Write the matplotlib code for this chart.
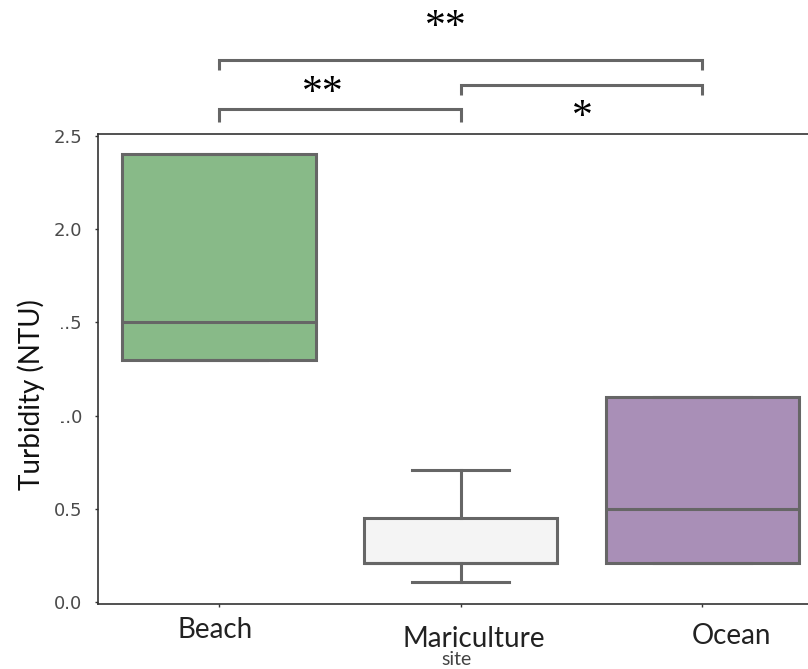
import matplotlib
matplotlib.use("Agg")
import matplotlib.pyplot as plt
import matplotlib.transforms as mtransforms
from matplotlib.patches import Rectangle

# ---- data ----
sites = ["Beach", "Mariculture", "Ocean"]
whisker_low = [1.30, 0.11, 0.21]
q1 = [1.30, 0.21, 0.21]
median = [1.50, 0.21, 0.50]
q3 = [2.40, 0.45, 1.10]
whisker_high = [2.40, 0.71, 1.10]
box_colors = ["#88BA88", "#F4F4F4", "#A98FB7"]

# significance comparisons: (start index, end index, label)
comp_start = [0, 1, 0]
comp_end = [1, 2, 2]
comp_label = ["**", "*", "**"]

ytick_vals = [0.0, 0.5, 1.0, 1.5, 2.0, 2.5]

LINE = "#666666"

fig = plt.figure(figsize=(8.08, 6.69), dpi=100)
W, H = 808, 669
ax = fig.add_axes([98 / W, 65 / H, 725 / W, 470 / H])

stats = []
for i, s in enumerate(sites):
    stats.append(dict(label=s, whislo=whisker_low[i], q1=q1[i], med=median[i],
                      q3=q3[i], whishi=whisker_high[i], fliers=[]))

bp = ax.bxp(stats, positions=range(len(sites)), widths=0.8, capwidths=0.4,
            patch_artist=True, showfliers=False,
            boxprops=dict(edgecolor=LINE, linewidth=2.2),
            whiskerprops=dict(color=LINE, linewidth=2.2),
            capprops=dict(color=LINE, linewidth=2.2),
            medianprops=dict(color=LINE, linewidth=2.2))
for patch, c in zip(bp["boxes"], box_colors):
    patch.set_facecolor(c)

ax.set_xlim(-0.5, 2.5)
ax.set_ylim(-0.009, 2.509)
ax.set_yticks(ytick_vals)
ax.set_yticklabels([f"{v:.1f}" for v in ytick_vals])
ax.set_xticks(range(len(sites)))
ax.set_xticklabels([""] * len(sites))

for sp in ["left", "bottom", "top"]:
    ax.spines[sp].set_color("#333333")
    ax.spines[sp].set_linewidth(1.2)
ax.spines["right"].set_visible(False)

ax.tick_params(axis="y", length=2.5, width=1, color="#333333", pad=9,
               labelsize=13, labelcolor="#4a4a4a")
ax.tick_params(axis="x", length=2.5, width=1, color="#333333")
for lab in ax.get_yticklabels():
    lab.set_fontfamily("DejaVu Sans")

# category labels (placed individually as in the reference)
trans = mtransforms.blended_transform_factory(ax.transData, ax.transAxes)
label_x = [-0.017, 1.054, 2.12]
label_y = [-0.0723, -0.0915, -0.085]
for s, x, y in zip(sites, label_x, label_y):
    ax.text(x, y, s, transform=trans, ha="center", va="baseline",
            fontsize=20, family="Lato", color="#222222")
ax.text(0.985, -0.130, "site", transform=trans, ha="center", va="baseline",
        fontsize=14, family="Lato", color="#444444")

# white patch behind the y label (it hides part of the tick labels)
fig.add_artist(Rectangle((8 / W, 1 - 492 / H), 53 / W, 194 / H,
                         transform=fig.transFigure, facecolor="white",
                         edgecolor="none", zorder=5))
fig.text(31 / W, 1 - 395 / H, "Turbidity (NTU)", rotation=90, ha="center",
         va="center", fontsize=20, family="Lato", color="#111111", zorder=6)

# significance brackets
bracket_h = [2.644, 2.770, 2.906]
bracket_leg = [2.574, 2.716, 2.853]
text_x = [0.43, 1.504, 0.938]
text_y = [2.722, 2.594, 3.080]
for s, e, lab, h, lg, tx, ty in zip(comp_start, comp_end, comp_label,
                                     bracket_h, bracket_leg, text_x, text_y):
    ax.plot([s, s, e, e], [lg, h, h, lg], color=LINE, linewidth=2.2,
            clip_on=False, solid_capstyle="butt", solid_joinstyle="miter")
    ax.text(tx, ty, lab, ha="center", va="center", fontsize=30,
            family="Liberation Serif", color="black")

fig.savefig("out.png", dpi=100)
